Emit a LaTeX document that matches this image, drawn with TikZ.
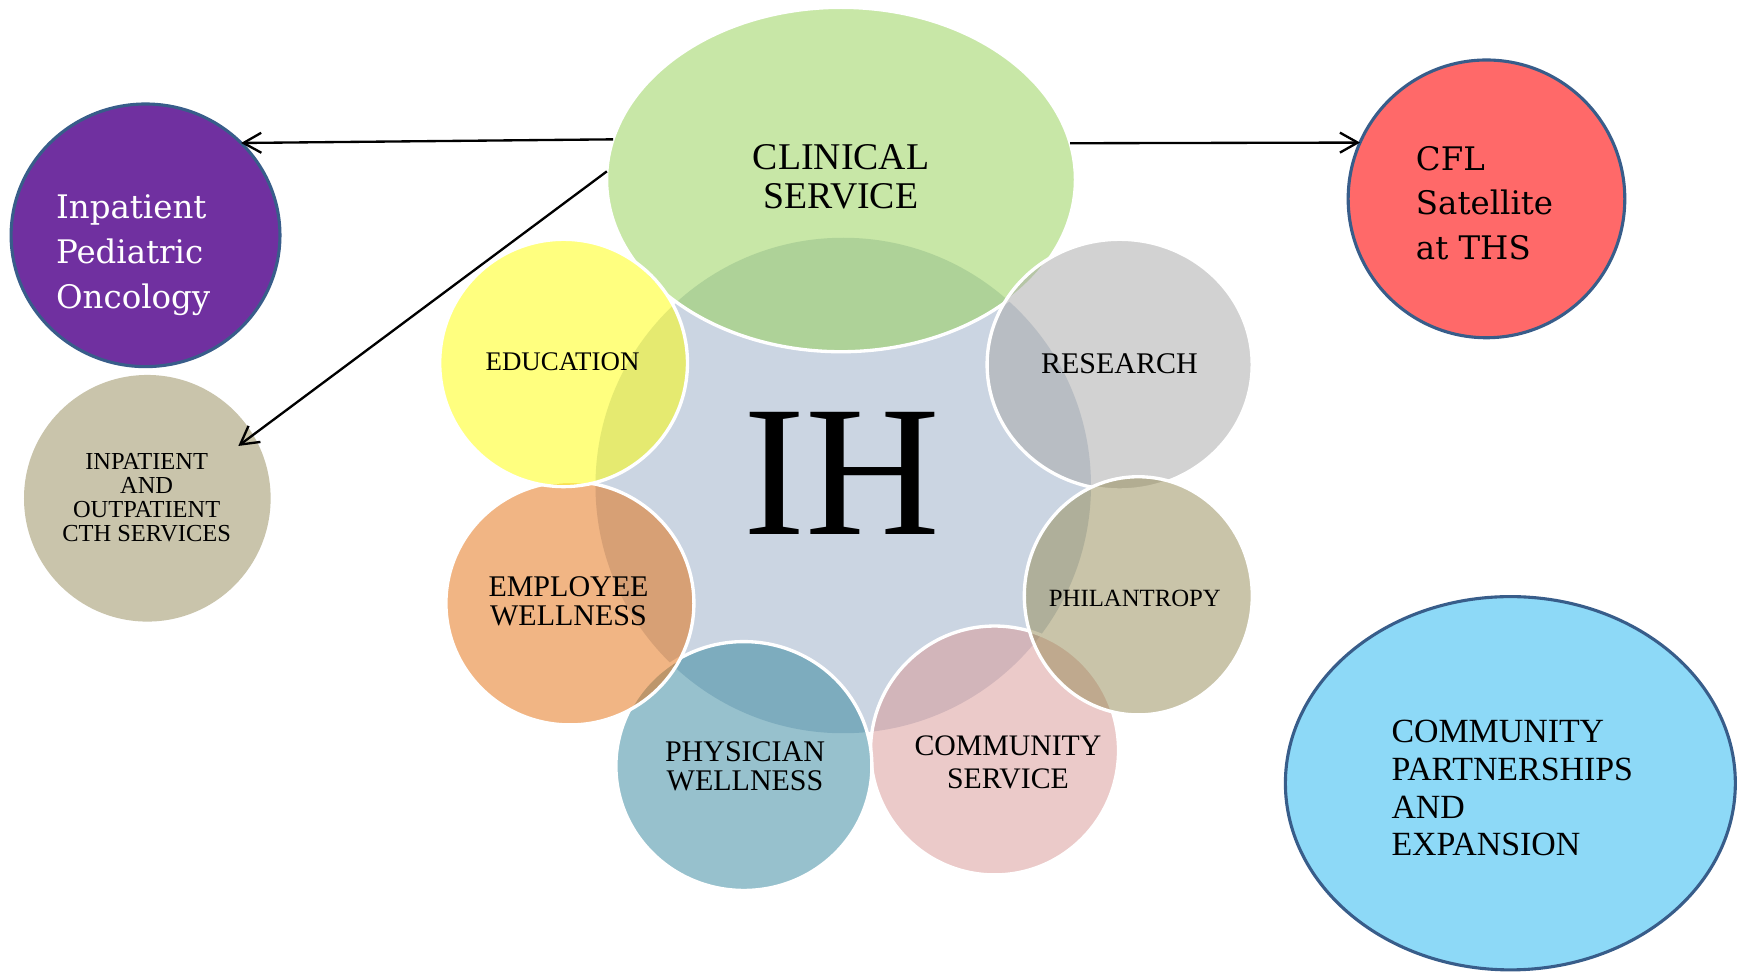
\documentclass[tikz,border=0pt]{standalone}
\usepackage{fontspec}
\setmainfont{Liberation Serif}
\newfontfamily\wideserif{DejaVu Serif}
\usetikzlibrary{shapes.geometric,arrows.meta}

% palette
\definecolor{ihblue}{HTML}{CBD5E2}
\definecolor{clingreen}{HTML}{92D050}
\definecolor{resgray}{HTML}{A6A6A6}
\definecolor{philolive}{HTML}{948A54}
\definecolor{commpink}{HTML}{D99694}
\definecolor{physteal}{HTML}{31859C}
\definecolor{emplorange}{HTML}{E46C0A}
\definecolor{eduyellow}{HTML}{FFFF00}
\definecolor{oncpurple}{HTML}{7030A0}
\definecolor{cthkhaki}{HTML}{C9C4AB}
\definecolor{cflred}{HTML}{FF6969}
\definecolor{partblue}{HTML}{8DD9F7}
\definecolor{rimblue}{HTML}{385D8A}

% multi-line labels whose baseline is the first line
\newcommand{\stackc}[1]{\begin{tabular}[t]{@{}c@{}}#1\end{tabular}}
\newcommand{\stackl}[1]{\begin{tabular}[t]{@{}l@{}}#1\end{tabular}}
\newcommand{\setfs}[2]{\fontsize{#1}{#2}\selectfont}

\tikzset{
  blob/.style={ellipse, inner sep=0pt, outer sep=0pt},
  sat/.style={blob, draw=white, line width=3pt, fill opacity=0.5},
  rimmed/.style={blob, draw=rimblue, line width=2.8pt},
  txt/.style={inner sep=0pt, outer sep=0pt, text=black},
  arrowline/.style={draw=black, line width=2.1pt,
    -{Straight Barb[length=16pt,width=18pt]}},
}

\begin{document}
\begin{tikzpicture}[x=1pt,y=-1pt]
  \fill[white] (0,0) rectangle (1568,875);
  \useasboundingbox (0,0) rectangle (1568,875);

  % central hub
  \node[blob, fill=ihblue, minimum width=446pt, minimum height=446pt] (ih) at (759,437) {};

  % surrounding translucent circles
  \node[sat, fill=clingreen, minimum width=422pt, minimum height=310pt] (clin) at (757,161.6) {};
  \node[sat, fill=resgray, minimum width=238.6pt, minimum height=225.6pt] (res) at (1007.8,328.2) {};
  \node[sat, fill=commpink, minimum width=223.2pt, minimum height=224pt] (comm) at (895.2,675.5) {};
  \node[sat, fill=philolive, minimum width=205.2pt, minimum height=214.4pt] (phil) at (1024.6,536.3) {};
  \node[sat, fill=physteal, minimum width=230.4pt, minimum height=224pt] (phys) at (669.6,689.5) {};
  \node[sat, fill=emplorange, minimum width=223.2pt, minimum height=219pt] (empl) at (513,543) {};
  \node[sat, fill=eduyellow, minimum width=223pt, minimum height=222.6pt] (edu) at (507.3,326.7) {};

  % outer circles
  \node[rimmed, fill=oncpurple, minimum width=242pt, minimum height=236.4pt] (onc) at (131,211.8) {};
  \node[blob, fill=cthkhaki, minimum width=222pt, minimum height=222pt] (cth) at (132.6,448.5) {};
  \node[rimmed, fill=cflred, minimum width=249pt, minimum height=250pt] (cfl) at (1338,179) {};
  \node[rimmed, fill=partblue, minimum width=405pt, minimum height=336pt] (part) at (1359.5,705) {};

  % labels
  \node[txt, anchor=base] (ih-t) at (758,481.5) {\setfs{168}{168}IH};
  \node[txt, anchor=base] (clin-t) at (757,153) {\setfs{34}{34.5}\stackc{CLINICAL\\SERVICE}};
  \node[txt, anchor=base] (edu-t) at (506.3,333.4) {\setfs{24.2}{26}EDUCATION};
  \node[txt, anchor=base] (res-t) at (1007.6,336.5) {\setfs{27}{28}RESEARCH};
  \node[txt, anchor=base] (phil-t) at (1021.5,545.8) {\setfs{22.3}{24}PHILANTROPY};
  \node[txt, anchor=base] (empl-t) at (511.7,537) {\setfs{27}{26.4}\stackc{EMPLOYEE\\WELLNESS}};
  \node[txt, anchor=base] (phys-t) at (670.6,685.5) {\setfs{27}{26.1}\stackc{PHYSICIAN\\WELLNESS}};
  \node[txt, anchor=base] (comm-t) at (907.3,680.4) {\setfs{26.8}{29.1}\stackc{COMMUNITY\\SERVICE}};
  \node[txt, anchor=base] (cth-t) at (132,422.4) {\setfs{22}{21.6}\stackc{INPATIENT\\AND\\OUTPATIENT\\CTH SERVICES}};
  \node[txt, anchor=base west, text=white] (onc-t) at (50.5,196.5)
    {\wideserif\setfs{29.2}{40.5}\stackl{Inpatient\\Pediatric\\Oncology}};
  \node[txt, anchor=base west] (cfl-t) at (1274.5,153.5)
    {\wideserif\setfs{29.2}{40}\stackl{CFL\\Satellite\\at THS}};
  \node[txt, anchor=base west] (part-t) at (1252.5,668.5)
    {\setfs{30.5}{33.9}\stackl{COMMUNITY\\PARTNERSHIPS\\AND\\EXPANSION}};

  % connectors
  \coordinate (cth-tip) at ([shift={(81.9,-47.1)}]cth.center);
  \draw[arrowline] (clin.170) -- (onc.44);
  \draw[arrowline] (clin.178.3) -- (cth-tip);
  \draw[arrowline] (clin.9) -- (cfl.156.6);
\end{tikzpicture}
\end{document}
